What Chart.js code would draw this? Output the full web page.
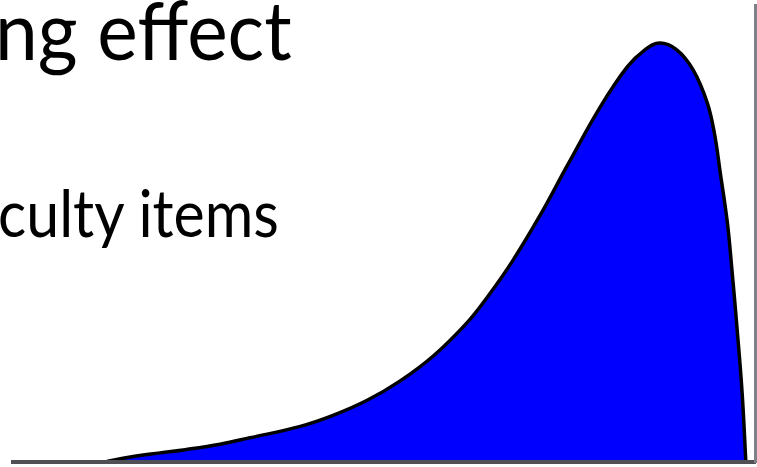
<!DOCTYPE html>
<html>
<head>
<meta charset="utf-8">
<script src="https://cdn.jsdelivr.net/npm/chart.js@4"></script>
<style>
  html, body { margin: 0; padding: 0; background: #fff; overflow: hidden; }
  #wrap { position: relative; width: 757px; height: 467px; }
  #chart { position: absolute; left: 0; top: 0; }
  .txt { position: absolute; font-family: Lato, sans-serif; color: #000; white-space: nowrap; line-height: 1; transform-origin: 0 0; }
  #title { left: -5px; top: -13px; font-size: 82px; transform: scaleX(0.935); }
  #sub { left: -2px; top: 179px; font-size: 66px; transform: scaleX(0.895); }
</style>
</head>
<body>
<div id="wrap">
  <canvas id="chart" width="757" height="467"></canvas>
  <div id="title" class="txt"></div>
  <div id="sub" class="txt"></div>
</div>
<script>
  const titleText = "ng effect";
  const subText = "culty items";

  // score along the bottom axis (0-100) and height of the curve (0-100)
  const scores = [12.4, 15.8, 19.8, 23.2, 27.9, 31.9, 38.7, 43.1, 47.7, 52.1, 56.6, 61.1, 63.8, 67.2, 71.0, 74.7, 79.1, 82.7, 85.1, 87.1, 89.4, 91.6, 93.5, 94.5, 95.2, 96.2, 96.8, 97.5, 98.2, 98.7];
  const density = [0, 1.1, 2.0, 2.7, 3.9, 5.3, 7.8, 10.2, 13.5, 17.7, 23.2, 30.4, 35.9, 43.8, 54.0, 65.0, 77.7, 86.4, 90.2, 91.7, 90.2, 85.8, 78.6, 71.6, 63.9, 52.5, 42.5, 29.5, 15.1, 0];

  document.getElementById("title").textContent = titleText;
  document.getElementById("sub").textContent = subText;

  const points = scores.map((x, i) => ({ x: x, y: density[i] }));

  new Chart(document.getElementById("chart"), {
    type: "line",
    data: {
      datasets: [
        {
          data: points,
          borderColor: "#000000",
          borderWidth: 3.5,
          backgroundColor: "#0000ff",
          fill: "origin",
          pointRadius: 0,
          tension: 0.4,
        },
      ],
    },
    options: {
      responsive: false,
      animation: false,
      events: [],
      layout: { padding: { left: 13, right: 1.5, top: 5, bottom: 5 } },
      plugins: { legend: { display: false }, tooltip: { enabled: false } },
      scales: {
        x: {
          type: "linear",
          min: 0,
          max: 100,
          ticks: { display: false },
          grid: { display: false, drawTicks: false },
          border: { color: "#505054", width: 4, z: 1 },
        },
        y: {
          position: "right",
          min: 0,
          max: 100,
          ticks: { display: false },
          grid: { display: false, drawTicks: false },
          border: { color: "#808088", width: 3, z: 1 },
        },
      },
    },
  });
</script>
</body>
</html>
